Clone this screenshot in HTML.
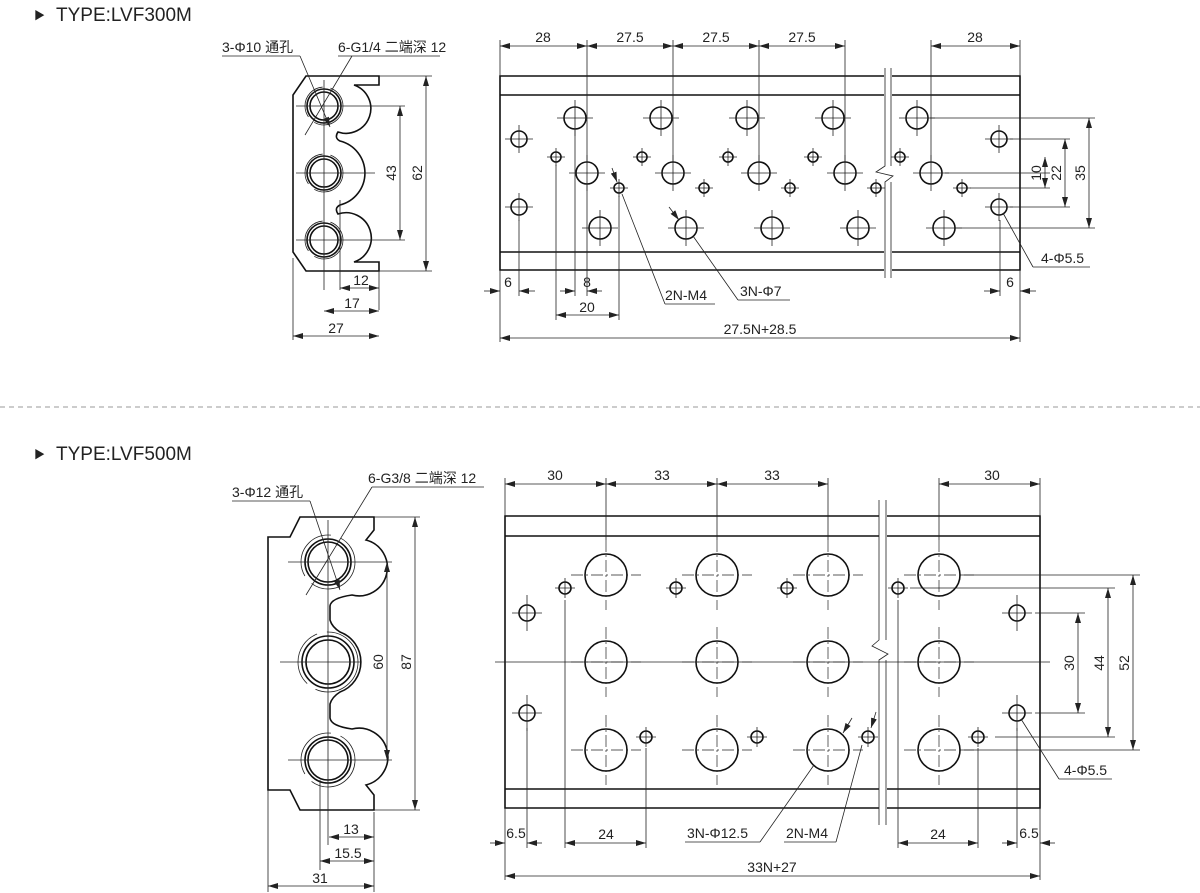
<!DOCTYPE html>
<html><head><meta charset="utf-8"><style>
body{margin:0;background:#fff;}
svg{display:block;}
text{font-family:"Liberation Sans","Noto Sans CJK SC",sans-serif;fill:#222;font-size:14px;}
.o{fill:none;stroke:#111;stroke-width:1.6;}
.t{fill:none;stroke:#222;stroke-width:0.8;}
.c{fill:none;stroke:#222;stroke-width:0.7;stroke-dasharray:12 3 2 3;}
</style></head><body>
<svg width="1200" height="893" viewBox="0 0 1200 893" xmlns="http://www.w3.org/2000/svg">
<defs>
<marker id="a" viewBox="0 0 10 6" refX="10" refY="3" markerWidth="10" markerHeight="6" orient="auto-start-reverse" markerUnits="userSpaceOnUse"><path d="M0,0L10,3L0,6z" fill="#222"/></marker>
<g id="ls"><circle r="5" class="o" stroke-width="1.3"/><path d="M-9,0H9M0,-9V9" class="t" stroke-width="0.6"/></g>
<g id="lm"><circle r="8" class="o" stroke-width="1.3"/><path d="M-14,0H14M0,-14V14" class="t" stroke-width="0.6"/></g>
<g id="ll"><circle r="11" class="o" stroke-width="1.3"/><path d="M-18,0H18M0,-18V18" class="t" stroke-width="0.6"/></g>
<g id="bs"><circle r="6" class="o" stroke-width="1.3"/><path d="M-10,0H10M0,-10V10" class="t" stroke-width="0.6"/></g>
<g id="bm"><circle r="8" class="o" stroke-width="1.3"/><path d="M-15,0H15M0,-18V18" class="t" stroke-width="0.6"/></g>
<g id="bl"><circle r="21" class="o" stroke-width="1.4"/><path d="M-35,0H35M0,-35V35" class="c"/></g>
</defs>

<!-- Titles -->
<text x="34" y="19" style="font-size:11px">▶</text><text x="56" y="21" style="font-size:19px">TYPE:LVF300M</text>
<text x="34" y="458" style="font-size:11px">▶</text><text x="56" y="460" style="font-size:19px">TYPE:LVF500M</text>
<line x1="0" y1="407" x2="1200" y2="407" stroke="#999" stroke-dasharray="5 4" stroke-width="1"/>

<!-- ===== TOP SIDE VIEW ===== -->
<path class="o" d="M306,76 H379 V85 H354 A19,19 0 0 1 338,132 Q334,138 340,141 A33,33 0 0 1 340,205 Q334,208 338,214 A19,19 0 0 1 354,262 H379 V271 H306 L293,252 V95 Z"/>
<g><circle cx="324" cy="106" r="17" class="o" stroke-width="1"/><circle cx="324" cy="106" r="14" class="o" stroke-width="1.2"/><circle cx="324" cy="106" r="19" class="t" stroke-dasharray="40 8"/></g>
<g><circle cx="324" cy="173" r="17" class="o" stroke-width="1"/><circle cx="324" cy="173" r="14" class="o" stroke-width="1.2"/><circle cx="324" cy="173" r="19" class="t" stroke-dasharray="40 8"/></g>
<g><circle cx="324" cy="240" r="17" class="o" stroke-width="1"/><circle cx="324" cy="240" r="14" class="o" stroke-width="1.2"/><circle cx="324" cy="240" r="19" class="t" stroke-dasharray="40 8"/></g>
<path class="t" d="M296,106H405 M296,173H375 M296,240H405 M324,80V290 M340,200V290 M379,271V310 M293,258V340 M379,76H432 M379,271H432"/>
<line class="t" x1="400" y1="106" x2="400" y2="240" marker-start="url(#a)" marker-end="url(#a)"/>
<line class="t" x1="426" y1="76" x2="426" y2="271" marker-start="url(#a)" marker-end="url(#a)"/>
<text transform="translate(396,173) rotate(-90)" text-anchor="middle">43</text>
<text transform="translate(422,173) rotate(-90)" text-anchor="middle">62</text>
<line class="t" x1="340" y1="288" x2="379" y2="288" marker-start="url(#a)" marker-end="url(#a)"/><text x="361" y="285" text-anchor="middle">12</text>
<line class="t" x1="324" y1="311" x2="379" y2="311" marker-start="url(#a)" marker-end="url(#a)"/><text x="352" y="308" text-anchor="middle">17</text>
<line class="t" x1="293" y1="336" x2="379" y2="336" marker-start="url(#a)" marker-end="url(#a)"/><text x="336" y="333" text-anchor="middle">27</text>
<text x="222" y="52">3-Φ10 通孔</text><line class="t" x1="222" y1="56" x2="300" y2="56"/><line class="t" x1="300" y1="56" x2="330" y2="127" marker-end="url(#a)"/>
<text x="338" y="52">6-G1/4 二端深 12</text><line class="t" x1="338" y1="56" x2="440" y2="56"/><line class="t" x1="352" y1="56" x2="305" y2="135"/>

<!-- ===== TOP PLATE ===== -->
<path class="o" d="M884,76 H500 V270 H884 M500,95 H884 M500,252 H884 M892,76 H1020 V270 H892 M892,95 H1020 M892,252 H1020"/>
<path class="t" d="M885,68 V166 L876,172 L893,176 L885,182 V278 M891,68 V166 M891,182 V278" stroke-width="1"/>
<g>
<use href="#ll" x="575" y="118"/><use href="#ll" x="661" y="118"/><use href="#ll" x="747" y="118"/><use href="#ll" x="833" y="118"/><use href="#ll" x="917" y="118"/>
<use href="#ll" x="587" y="173"/><use href="#ll" x="673" y="173"/><use href="#ll" x="759" y="173"/><use href="#ll" x="845" y="173"/><use href="#ll" x="931" y="173"/>
<use href="#ll" x="600" y="228"/><use href="#ll" x="686" y="228"/><use href="#ll" x="772" y="228"/><use href="#ll" x="858" y="228"/><use href="#ll" x="944" y="228"/>
<use href="#ls" x="556" y="157"/><use href="#ls" x="642" y="157"/><use href="#ls" x="728" y="157"/><use href="#ls" x="813" y="157"/><use href="#ls" x="900" y="157"/>
<use href="#ls" x="619" y="188"/><use href="#ls" x="704" y="188"/><use href="#ls" x="790" y="188"/><use href="#ls" x="876" y="188"/><use href="#ls" x="962" y="188"/>
<use href="#lm" x="519" y="139"/><use href="#lm" x="519" y="207"/><use href="#lm" x="999" y="139"/><use href="#lm" x="999" y="207"/>
</g>
<path class="t" d="M500,40V76 M587,40V162 M673,40V162 M759,40V162 M845,40V162 M931,40V162 M1020,40V76 M500,270V342 M519,220V296 M556,165V320 M575,130V296 M587,185V296 M619,196V320 M1000,220V296 M1020,270V342 M945,173H1050 M1010,139H1070 M1010,207H1070 M930,118H1095 M955,228H1095 M970,188H1050"/>
<g>
<line class="t" x1="500" y1="46" x2="587" y2="46" marker-start="url(#a)" marker-end="url(#a)"/><text x="543" y="42" text-anchor="middle">28</text>
<line class="t" x1="587" y1="46" x2="673" y2="46" marker-start="url(#a)" marker-end="url(#a)"/><text x="630" y="42" text-anchor="middle">27.5</text>
<line class="t" x1="673" y1="46" x2="759" y2="46" marker-start="url(#a)" marker-end="url(#a)"/><text x="716" y="42" text-anchor="middle">27.5</text>
<line class="t" x1="759" y1="46" x2="845" y2="46" marker-start="url(#a)" marker-end="url(#a)"/><text x="802" y="42" text-anchor="middle">27.5</text>
<line class="t" x1="931" y1="46" x2="1020" y2="46" marker-start="url(#a)" marker-end="url(#a)"/><text x="975" y="42" text-anchor="middle">28</text>
<line class="t" x1="1045" y1="157" x2="1045" y2="188" marker-start="url(#a)" marker-end="url(#a)"/><text transform="translate(1041,173) rotate(-90)" text-anchor="middle">10</text>
<line class="t" x1="1065" y1="139" x2="1065" y2="207" marker-start="url(#a)" marker-end="url(#a)"/><text transform="translate(1061,173) rotate(-90)" text-anchor="middle">22</text>
<line class="t" x1="1089" y1="118" x2="1089" y2="228" marker-start="url(#a)" marker-end="url(#a)"/><text transform="translate(1085,173) rotate(-90)" text-anchor="middle">35</text>
<line class="t" x1="484" y1="291" x2="500" y2="291" marker-end="url(#a)"/><line class="t" x1="535" y1="291" x2="519" y2="291" marker-end="url(#a)"/><text x="508" y="287" text-anchor="middle">6</text>
<line class="t" x1="560" y1="291" x2="575" y2="291" marker-end="url(#a)"/><line class="t" x1="602" y1="291" x2="587" y2="291" marker-end="url(#a)"/><text x="587" y="287" text-anchor="middle">8</text>
<line class="t" x1="556" y1="315" x2="619" y2="315" marker-start="url(#a)" marker-end="url(#a)"/><text x="587" y="312" text-anchor="middle">20</text>
<line class="t" x1="984" y1="291" x2="1000" y2="291" marker-end="url(#a)"/><line class="t" x1="1036" y1="291" x2="1020" y2="291" marker-end="url(#a)"/><text x="1010" y="287" text-anchor="middle">6</text>
<line class="t" x1="500" y1="338" x2="1020" y2="338" marker-start="url(#a)" marker-end="url(#a)"/><text x="760" y="334" text-anchor="middle">27.5N+28.5</text>
<text x="665" y="300">2N-M4</text><path class="t" d="M665,304H715 M665,304L622,194"/><line class="t" x1="612" y1="168" x2="617" y2="182" marker-end="url(#a)"/>
<text x="740" y="296">3N-Φ7</text><path class="t" d="M738,300H790 M738,300L693,236"/><line class="t" x1="669" y1="207" x2="679" y2="220" marker-end="url(#a)"/>
<text x="1041" y="263">4-Φ5.5</text><path class="t" d="M1033,267H1090 M1033,267L1003,213"/>
</g>

<!-- ===== BOTTOM SIDE VIEW ===== -->
<path class="o" d="M300,517 H374 V530 L366,540 A24,24 0 0 1 352,595 Q331,598 330,606 V620 Q332,627 340,632 A32,32 0 0 1 340,692 Q332,697 330,704 V718 Q331,726 352,729 A24,24 0 0 1 366,785 L374,795 V810 H300 L290,790 H268 V537 H290 Z"/>
<g fill="none">
<circle cx="328" cy="562" r="27" class="t" stroke-dasharray="60 10"/><circle cx="328" cy="562" r="23" class="o" stroke-width="1"/><circle cx="328" cy="562" r="20" class="o" stroke-width="1.2"/>
<circle cx="328" cy="662" r="30" class="t" stroke-dasharray="60 10"/><circle cx="328" cy="662" r="26" class="o" stroke-width="1"/><circle cx="328" cy="662" r="22" class="o" stroke-width="1.2"/>
<circle cx="328" cy="760" r="27" class="t" stroke-dasharray="60 10"/><circle cx="328" cy="760" r="23" class="o" stroke-width="1"/><circle cx="328" cy="760" r="20" class="o" stroke-width="1.2"/>
</g>
<path class="t" d="M288,562H392 M280,662H360 M288,760H392 M328,520V845 M320,780V870 M374,812V892 M268,790V892 M374,517H420 M374,810H420"/>
<line class="t" x1="387" y1="562" x2="387" y2="760" marker-start="url(#a)" marker-end="url(#a)"/><text transform="translate(383,662) rotate(-90)" text-anchor="middle">60</text>
<line class="t" x1="415" y1="517" x2="415" y2="810" marker-start="url(#a)" marker-end="url(#a)"/><text transform="translate(411,662) rotate(-90)" text-anchor="middle">87</text>
<line class="t" x1="329" y1="837" x2="374" y2="837" marker-start="url(#a)" marker-end="url(#a)"/><text x="351" y="834" text-anchor="middle">13</text>
<line class="t" x1="320" y1="861" x2="374" y2="861" marker-start="url(#a)" marker-end="url(#a)"/><text x="348" y="858" text-anchor="middle">15.5</text>
<line class="t" x1="268" y1="886" x2="374" y2="886" marker-start="url(#a)" marker-end="url(#a)"/><text x="320" y="883" text-anchor="middle">31</text>
<text x="232" y="497">3-Φ12 通孔</text><line class="t" x1="232" y1="501" x2="310" y2="501"/><line class="t" x1="310" y1="501" x2="340" y2="590" marker-end="url(#a)"/>
<text x="368" y="483">6-G3/8 二端深 12</text><line class="t" x1="372" y1="487" x2="484" y2="487"/><line class="t" x1="372" y1="487" x2="306" y2="595"/>

<!-- ===== BOTTOM PLATE ===== -->
<path class="o" d="M879,516 H505 V808 H879 M505,536 H879 M505,789 H879 M887,516 H1040 V808 H887 M887,536 H1040 M887,789 H1040"/>
<path class="t" d="M879,500 V640 L872,646 L888,654 L879,660 V825 M886,500 V640 M886,660 V825" stroke-width="1"/>
<g>
<use href="#bl" x="606" y="575"/><use href="#bl" x="717" y="575"/><use href="#bl" x="828" y="575"/><use href="#bl" x="939" y="575"/>
<use href="#bl" x="606" y="662"/><use href="#bl" x="717" y="662"/><use href="#bl" x="828" y="662"/><use href="#bl" x="939" y="662"/>
<use href="#bl" x="606" y="750"/><use href="#bl" x="717" y="750"/><use href="#bl" x="828" y="750"/><use href="#bl" x="939" y="750"/>
<use href="#bs" x="565" y="588"/><use href="#bs" x="676" y="588"/><use href="#bs" x="787" y="588"/><use href="#bs" x="898" y="588"/>
<use href="#bs" x="646" y="737"/><use href="#bs" x="757" y="737"/><use href="#bs" x="868" y="737"/><use href="#bs" x="978" y="737"/>
<use href="#bm" x="527" y="613"/><use href="#bm" x="527" y="713"/><use href="#bm" x="1017" y="613"/><use href="#bm" x="1017" y="713"/>
</g>
<path class="t" d="M495,662H1050 M505,478V516 M606,478V540 M717,478V540 M828,478V540 M939,478V540 M1040,478V516 M505,808V880 M527,728V848 M565,600V848 M646,748V848 M898,600V848 M978,748V848 M1017,728V848 M1040,808V880 M960,575H1140 M910,588H1115 M1035,613H1085 M1035,713H1085 M995,737H1115 M960,750H1140"/>
<g>
<line class="t" x1="505" y1="484" x2="606" y2="484" marker-start="url(#a)" marker-end="url(#a)"/><text x="555" y="480" text-anchor="middle">30</text>
<line class="t" x1="606" y1="484" x2="717" y2="484" marker-start="url(#a)" marker-end="url(#a)"/><text x="662" y="480" text-anchor="middle">33</text>
<line class="t" x1="717" y1="484" x2="828" y2="484" marker-start="url(#a)" marker-end="url(#a)"/><text x="772" y="480" text-anchor="middle">33</text>
<line class="t" x1="939" y1="484" x2="1040" y2="484" marker-start="url(#a)" marker-end="url(#a)"/><text x="992" y="480" text-anchor="middle">30</text>
<line class="t" x1="1078" y1="613" x2="1078" y2="713" marker-start="url(#a)" marker-end="url(#a)"/><text transform="translate(1074,663) rotate(-90)" text-anchor="middle">30</text>
<line class="t" x1="1108" y1="588" x2="1108" y2="737" marker-start="url(#a)" marker-end="url(#a)"/><text transform="translate(1104,663) rotate(-90)" text-anchor="middle">44</text>
<line class="t" x1="1133" y1="575" x2="1133" y2="750" marker-start="url(#a)" marker-end="url(#a)"/><text transform="translate(1129,663) rotate(-90)" text-anchor="middle">52</text>
<line class="t" x1="490" y1="843" x2="505" y2="843" marker-end="url(#a)"/><line class="t" x1="542" y1="843" x2="527" y2="843" marker-end="url(#a)"/><text x="516" y="838" text-anchor="middle">6.5</text>
<line class="t" x1="565" y1="843" x2="646" y2="843" marker-start="url(#a)" marker-end="url(#a)"/><text x="606" y="839" text-anchor="middle">24</text>
<line class="t" x1="898" y1="843" x2="978" y2="843" marker-start="url(#a)" marker-end="url(#a)"/><text x="938" y="839" text-anchor="middle">24</text>
<line class="t" x1="1002" y1="843" x2="1017" y2="843" marker-end="url(#a)"/><line class="t" x1="1055" y1="843" x2="1040" y2="843" marker-end="url(#a)"/><text x="1029" y="838" text-anchor="middle">6.5</text>
<line class="t" x1="505" y1="876" x2="1040" y2="876" marker-start="url(#a)" marker-end="url(#a)"/><text x="772" y="872" text-anchor="middle">33N+27</text>
<text x="687" y="838">3N-Φ12.5</text><path class="t" d="M685,842H760 M760,842L814,765"/><line class="t" x1="852" y1="718" x2="843" y2="733" marker-end="url(#a)"/>
<text x="786" y="838">2N-M4</text><path class="t" d="M784,842H836 M836,842L862,745"/><line class="t" x1="876" y1="712" x2="871" y2="728" marker-end="url(#a)"/>
<text x="1064" y="775">4-Φ5.5</text><path class="t" d="M1059,779H1112 M1059,779L1021,719"/>
</g>
</svg>
</body></html>
